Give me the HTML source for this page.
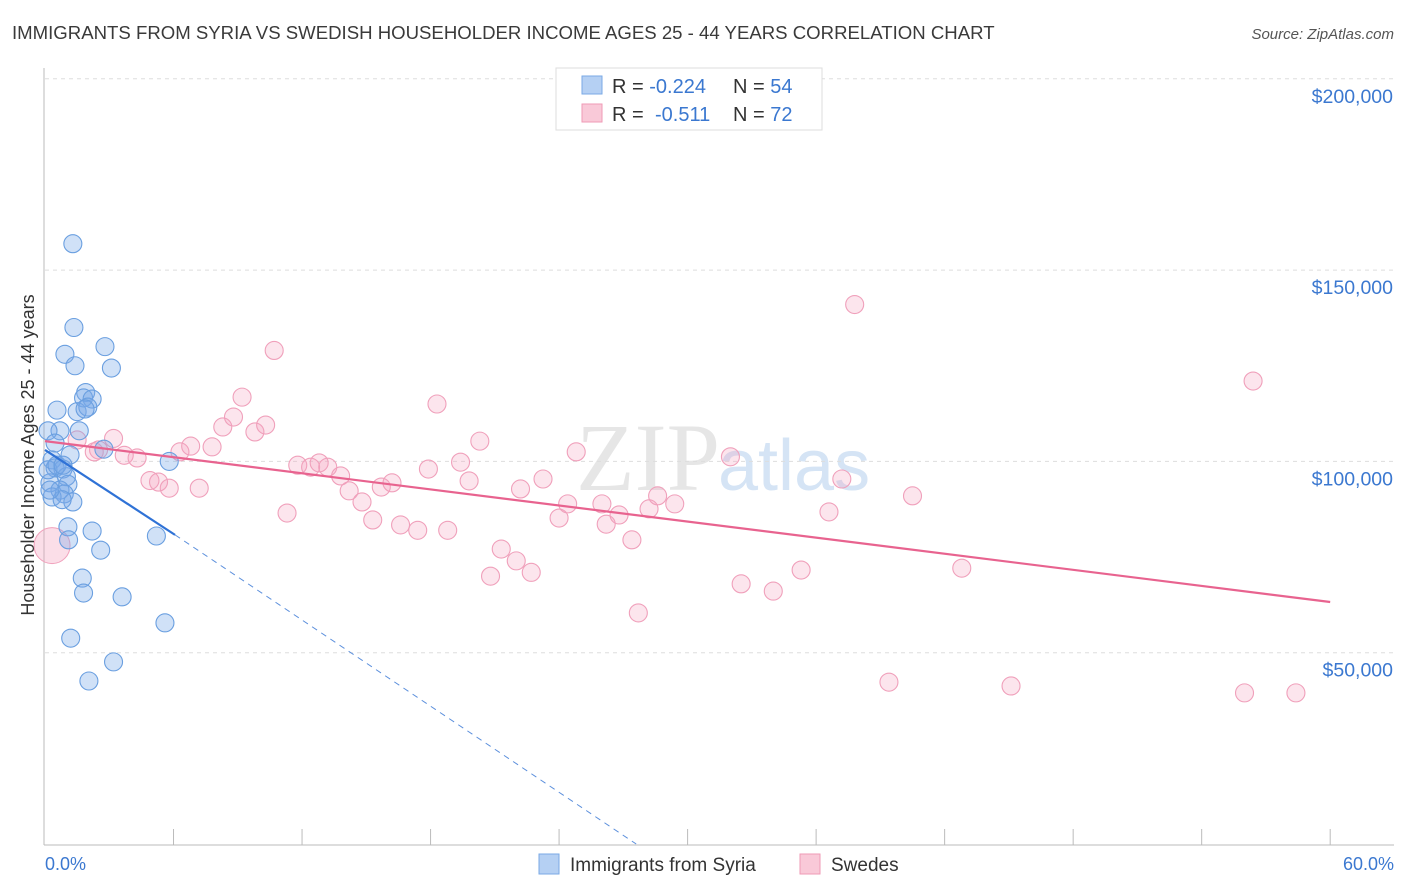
<!DOCTYPE html>
<html><head><meta charset="utf-8"><style>
body{margin:0;background:#fff;font-family:"Liberation Sans",sans-serif;}
svg{display:block}
</style></head><body>
<svg id="c" width="1406" height="892">
<text x="12" y="39" font-size="18.6" fill="#3a3a3a">IMMIGRANTS FROM SYRIA VS SWEDISH HOUSEHOLDER INCOME AGES 25 - 44 YEARS CORRELATION CHART</text>
<text x="1394" y="39" font-size="15" fill="#555" text-anchor="end" font-style="italic">Source: ZipAtlas.com</text>
<text x="720" y="490" font-size="96" fill="#e6e6e6" text-anchor="end" font-family="Liberation Serif">ZIP</text>
<text x="718" y="490" font-size="72" fill="#d5e4f5">atlas</text>
<g id="grid"></g>
<g id="axes"></g>
<g id="pts"></g>
<g id="lines"></g>
<text transform="translate(34,455) rotate(-90)" font-size="18" fill="#333" text-anchor="middle">Householder Income Ages 25 - 44 years</text>
<text x="45" y="870" font-size="18" fill="#3b78d0">0.0%</text>
<text x="1394" y="870" font-size="18" fill="#3b78d0" text-anchor="end">60.0%</text>
<g>
<rect x="556" y="68" width="266" height="62" fill="#fff" stroke="#ddd"/>
<rect x="582" y="76" width="20" height="18" fill="#b5d0f3" stroke="#7aa9e6"/>
<rect x="582" y="104" width="20" height="18" fill="#f9c9d8" stroke="#ef9ab6"/>
<text x="612" y="93" font-size="20" fill="#333">R = <tspan fill="#3b78d0">-0.224</tspan><tspan x="733">N = </tspan><tspan fill="#3b78d0">54</tspan></text>
<text x="612" y="121" font-size="20" fill="#333">R = <tspan fill="#3b78d0" x="655">-0.511</tspan><tspan x="733">N = </tspan><tspan fill="#3b78d0">72</tspan></text>
</g>
<g>
<rect x="539" y="854" width="20" height="20" fill="#b5d0f3" stroke="#7aa9e6"/>
<text x="570" y="871" font-size="19" fill="#333">Immigrants from Syria</text>
<rect x="800" y="854" width="20" height="20" fill="#f9c9d8" stroke="#ef9ab6"/>
<text x="831" y="871" font-size="19" fill="#333">Swedes</text>
</g>
</svg>
<script>
const yTicks=[50,100,150,200];
const yTickLabels=["$50,000","$100,000","$150,000","$200,000"];
const blueX=[1.3,1.35,0.93,2.8,3.1,1.4,1.9,1.8,2.2,0.56,1.5,2.0,1.87,0.7,0.14,1.6,0.47,2.75,1.17,5.8,0.33,0.47,0.84,1.0,0.23,1.07,0.7,0.9,0.33,1.3,0.8,1.07,1.1,2.2,2.6,5.2,1.74,1.8,3.6,5.6,1.2,3.2,2.05,0.14,0.56,0.23,0.84];
const blueY=[156.9,135,128,130,124.4,125,118,116.6,116.3,113.4,113,114.2,113.7,108,108,108,104.8,103.2,101.7,100,100.4,98.3,98,96,94.4,94,92.5,91.5,90.7,89.4,90,82.9,79.5,81.8,76.8,80.5,69.5,65.6,64.6,57.8,53.8,47.6,42.6,97.8,99,92.5,99];
const pinkX=[1.5,3.2,2.5,2.3,3.7,4.3,4.9,5.3,5.8,6.3,6.8,7.2,7.8,8.3,8.8,9.2,9.8,10.3,10.7,11.3,11.8,12.4,12.8,13.2,13.8,14.2,14.8,15.3,15.7,16.2,16.6,17.4,17.9,18.3,18.8,19.4,19.8,20.3,20.8,21.3,22.0,22.7,22.2,23.25,24.0,24.4,24.8,26,26.2,26.8,27.4,27.7,28.2,28.6,29.4,32,32.5,34,35.3,36.6,37.2,37.8,39.4,40.5,42.8,45.1,56,56.4,58.4];
const pinkY=[105.6,106,103,102.5,101.6,100.9,95,94.6,93,102.5,104,93,103.8,109,111.6,116.8,107.7,109.5,129,86.5,99,98.5,99.6,98.5,96.2,92.3,89.4,84.7,93.3,94.4,83.4,82,98,115,82,99.8,94.9,105.3,70,77.1,74,71,92.8,95.4,85.2,88.9,102.5,88.9,83.6,86,79.5,60.4,87.6,91,88.9,101.2,68,66.1,71.6,86.8,95.4,141,42.3,91,72.1,41.3,39.5,121,39.5];
const bigPink=[0.33,78];
const blueTrend=[0,103,6.07,80.8,27.6,0];
const pinkTrend=[0,105.3,60,63.25];
const NS="http://www.w3.org/2000/svg";
const X=v=>45+v*21.42, Y=v=>844-v*3.826;
function mk(t,a,p){const e=document.createElementNS(NS,t);for(const k in a)e.setAttribute(k,a[k]);document.getElementById(p).appendChild(e);return e;}
yTicks.forEach((t,i)=>{
 const g=mk('line',{x1:45,x2:1394,y1:Y(t),y2:Y(t),stroke:'#ddd','stroke-dasharray':'4,4'},'grid');
 
 
 const l=mk('text',{x:1393,y:Y(t)+24,'font-size':19.5,fill:'#3b78d0','text-anchor':'end'},'grid');
 l.textContent=yTickLabels[i];
 
 
});
const ax=mk('line',{x1:44,x2:44,y1:68,y2:845,stroke:'#bbb'},'axes');


const bx=mk('line',{x1:44,x2:1394,y1:845,y2:845,stroke:'#bbb'},'axes');


for(let i=1;i<=10;i++){const t=mk('line',{x1:X(i*6),x2:X(i*6),y1:829,y2:845,stroke:'#bbb'},'axes');
 
 }
pinkX.forEach((x,i)=>{const c=mk('circle',{cx:X(x),cy:Y(pinkY[i]),r:9,fill:'rgba(244,160,190,0.28)',stroke:'#f0a0bb','stroke-width':1.1},'pts');
 
 });
const bp=mk('circle',{cx:X(bigPink[0]),cy:Y(bigPink[1]),r:18,fill:'rgba(244,160,190,0.35)',stroke:'#f0a0bb'},'pts');


blueX.forEach((x,i)=>{const c=mk('circle',{cx:X(x),cy:Y(blueY[i]),r:9,fill:'rgba(120,170,232,0.35)',stroke:'#6a9fe0','stroke-width':1.1},'pts');
 
 });
const pl=mk('line',{x1:X(pinkTrend[0]),y1:Y(pinkTrend[1]),x2:X(pinkTrend[2]),y2:Y(pinkTrend[3]),stroke:'#e8638f','stroke-width':2.2},'lines');


const bl=mk('line',{x1:X(blueTrend[0]),y1:Y(blueTrend[1]),x2:X(blueTrend[2]),y2:Y(blueTrend[3]),stroke:'#2f72d6','stroke-width':2.2},'lines');


const bd=mk('line',{x1:X(blueTrend[2]),y1:Y(blueTrend[3]),x2:X(blueTrend[4]),y2:Y(blueTrend[5]),stroke:'#5b8fdc','stroke-width':1,'stroke-dasharray':'6,5'},'lines');


</script>
</body></html>
